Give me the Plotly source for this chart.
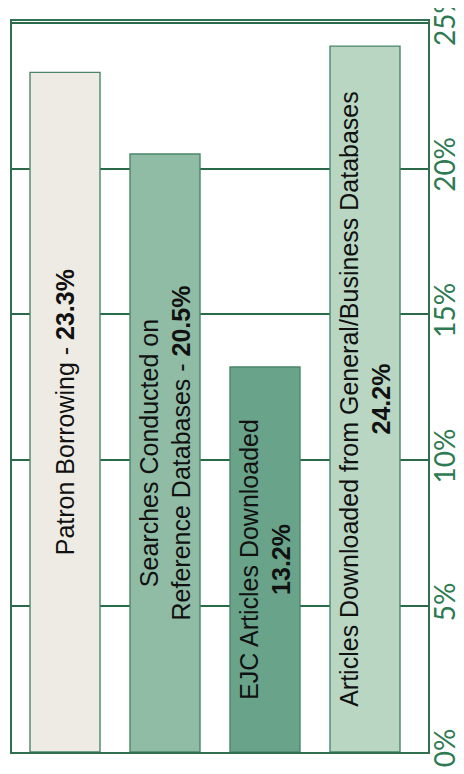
import plotly.graph_objects as go

categories = ["Patron Borrowing - ",
              "Searches Conducted on<br>Reference Databases - ",
              "EJC Articles Downloaded<br>",
              "Articles Downloaded from General/Business Databases<br>"]
values = [23.3, 20.5, 13.2, 24.2]
value_labels = ["23.3%", "20.5%", "13.2%", "24.2%"]
tick_values = [0, 5, 10, 15, 20, 25]
tick_labels = ["0%", "5%", "10%", "15%", "20%", "25%"]

bar_colors = ["#eeebe4", "#90bca5", "#69a38a", "#b8d6c2"]
green = "#2f7050"

texts = [c + "<b>" + v + "</b>" for c, v in zip(categories, value_labels)]

fig = go.Figure()
fig.add_trace(go.Bar(
    x=list(range(len(values))),
    y=values,
    width=0.7,
    text=texts,
    textposition="inside",
    insidetextanchor="middle",
    textangle=-90,
    constraintext="none",
    textfont=dict(family="Liberation Sans, Arial, sans-serif", size=25, color="#111111"),
    marker=dict(color=bar_colors, line=dict(color="#4a876a", width=1.4)),
    hoverinfo="skip",
))

fig.update_layout(
    width=456, height=766,
    margin=dict(l=4, r=36, t=13, b=22),
    paper_bgcolor="white",
    plot_bgcolor="white",
    showlegend=False,
    xaxis=dict(range=[-0.53, 3.63], showticklabels=False, showgrid=False,
               zeroline=False, showline=True, mirror=True,
               linecolor=green, linewidth=1.6, fixedrange=True),
    yaxis=dict(range=[0, 25.06], side="right", tickvals=tick_values, ticktext=tick_labels,
               tickangle=-90, showgrid=True, gridcolor="#2b6a49", gridwidth=1.8,
               zeroline=False, showline=True, mirror=True, linecolor=green,
               linewidth=1.6, ticks="", automargin=False, ticklabelstandoff=-8,
               ticklabeloverflow="allow",
               tickfont=dict(family="Lato, Open Sans, sans-serif", size=28, color="#2e7a52")),
)

fig.write_html("out.html")
